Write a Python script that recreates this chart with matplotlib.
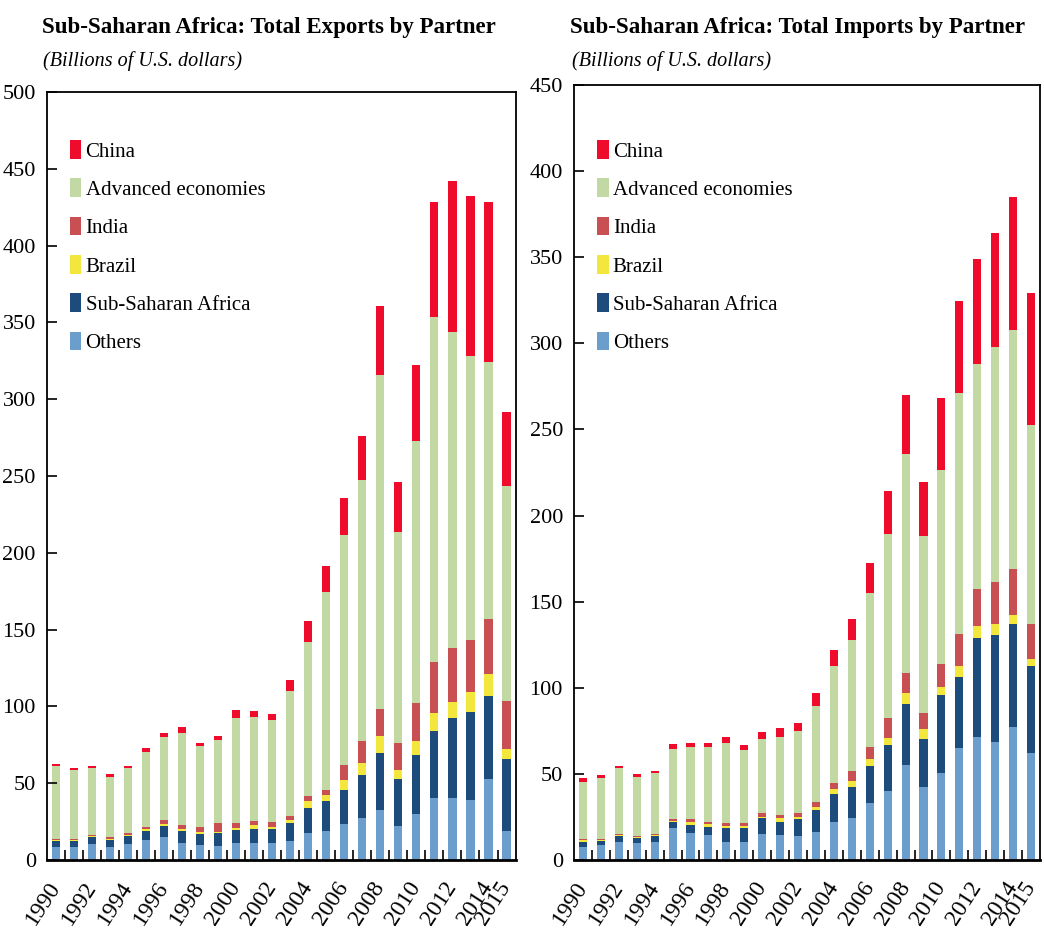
import numpy as np
import matplotlib.pyplot as plt

plt.rcParams['font.family'] = ['Liberation Serif', 'DejaVu Serif']

years = list(range(1990, 2016))
tick_years = [1990, 1992, 1994, 1996, 1998, 2000, 2002, 2004, 2006, 2008, 2010, 2012, 2014, 2015]

# Exports (billions of US$), stacked from bottom to top
exp_others = [8.3, 8.3, 10.4, 8.3, 10.4, 13.0, 14.8, 11.3, 9.8, 9.3, 10.9, 10.9, 10.8,
              12.3, 17.3, 19.0, 23.2, 27.5, 32.5, 22.3, 29.9, 40.5, 40.5, 39.0, 53.0, 18.8]
exp_ssa = [4.1, 4.1, 4.8, 4.7, 5.3, 6.0, 7.6, 7.8, 7.4, 8.1, 8.7, 9.1, 9.5,
           11.5, 16.7, 19.5, 22.7, 28.1, 37.2, 30.7, 38.7, 43.5, 52.1, 57.3, 54.1, 47.2]
exp_brazil = [0.5, 0.5, 0.4, 0.6, 0.8, 1.0, 0.9, 1.1, 1.3, 1.1, 1.3, 2.8, 1.3,
              2.2, 4.5, 3.7, 6.1, 7.8, 10.8, 5.9, 8.7, 11.9, 10.2, 13.4, 14.1, 6.5]
exp_india = [0.6, 0.6, 0.4, 1.2, 0.9, 1.7, 2.7, 2.6, 2.8, 5.4, 3.0, 2.4, 3.3,
             2.8, 3.1, 3.7, 10.1, 14.1, 17.5, 17.3, 24.9, 32.9, 35.1, 33.6, 35.9, 31.0]
exp_adv = [47.4, 45.2, 43.8, 39.2, 42.4, 48.5, 54.0, 60.2, 52.6, 54.4, 68.3, 67.8, 66.4,
           81.2, 100.6, 128.9, 149.2, 170.0, 218.0, 137.3, 170.9, 224.5, 205.6, 185.0, 167.3, 139.7]
exp_china = [1.5, 1.1, 1.2, 2.0, 1.2, 2.4, 2.6, 3.5, 2.1, 2.6, 5.2, 3.7, 3.9,
             7.3, 13.2, 16.9, 24.3, 28.8, 44.4, 32.5, 49.2, 75.4, 98.5, 104.1, 104.3, 48.7]

# Imports (billions of US$)
imp_others = [7.4, 8.7, 10.7, 9.7, 10.7, 18.5, 15.5, 14.5, 10.7, 10.7, 15.1, 14.5, 14.0,
              16.5, 22.3, 24.6, 32.9, 40.1, 55.2, 42.1, 50.4, 64.9, 71.3, 68.8, 77.5, 62.4]
imp_ssa = [3.3, 2.3, 3.4, 3.3, 3.4, 3.5, 4.8, 4.9, 8.1, 8.1, 9.1, 7.8, 9.8,
           12.6, 16.1, 18.0, 21.4, 26.4, 35.5, 28.1, 45.5, 41.3, 57.6, 62.0, 59.5, 50.4]
imp_brazil = [0.8, 0.8, 0.5, 0.5, 0.5, 0.7, 2.0, 1.3, 1.0, 1.0, 1.0, 2.3, 1.4,
              1.5, 2.7, 3.5, 4.4, 4.2, 6.2, 5.8, 4.5, 6.2, 6.8, 6.2, 5.4, 4.1]
imp_india = [0.7, 0.6, 0.5, 0.6, 0.5, 0.9, 1.3, 1.6, 1.5, 1.9, 1.9, 1.6, 1.9,
             3.3, 3.5, 5.3, 7.2, 11.7, 11.6, 9.3, 13.6, 19.0, 21.9, 24.2, 26.8, 20.3]
imp_adv = [33.3, 35.1, 38.2, 34.3, 35.3, 40.9, 42.3, 43.6, 46.9, 41.9, 43.2, 45.5, 47.9,
           55.8, 68.2, 76.5, 89.1, 106.6, 127.4, 103.1, 112.4, 139.9, 130.6, 136.9, 138.4, 115.3]
imp_china = [2.0, 1.9, 1.5, 1.4, 1.5, 2.7, 2.3, 2.3, 3.5, 3.3, 3.9, 5.2, 4.5,
             7.2, 9.3, 12.2, 17.5, 25.1, 34.1, 31.2, 41.6, 53.3, 60.6, 66.2, 77.5, 76.6]

labels = ['Others', 'Sub-Saharan Africa', 'Brazil', 'India', 'Advanced economies', 'China']
colors = ['#6b9dcd', '#1c4b7c', '#f3e73d', '#c85052', '#c3d9a3', '#ee0b2c']


def draw_panel(ax, series, ymax, leg_x):
    x = np.array(years)
    bottom = np.zeros(len(years))
    handles = []
    for s, lab, col in zip(series, labels, colors):
        b = ax.bar(x, s, width=0.45, bottom=bottom, color=col, label=lab, linewidth=0)
        handles.append(b)
        bottom += np.array(s)

    ax.set_xlim(1989.5, 2015.5)
    ax.set_ylim(0, ymax)
    ax.set_yticks(np.arange(0, ymax + 1, 50))
    ax.set_xticks(tick_years)
    ax.set_xticklabels([str(y) for y in tick_years], rotation=57, ha='right',
                       va='center', rotation_mode='anchor')
    # little ticks between the bars
    ax.set_xticks(np.arange(1990.5, 2015, 1), minor=True)
    ax.tick_params(axis='x', which='major', length=0, pad=17, labelsize=17)
    ax.tick_params(axis='x', which='minor', direction='in', length=7, width=1.2)
    ax.tick_params(axis='y', direction='in', length=7, width=1.2, labelsize=16, pad=8)
    for sp in ax.spines.values():
        sp.set_linewidth(1.3)
    ax.spines['bottom'].set_linewidth(2)

    # legend, China on top
    ax.legend(handles[::-1], labels[::-1], loc='upper left', bbox_to_anchor=(leg_x, 0.851),
              bbox_transform=fig.transFigure,
              frameon=False, fontsize=15, handlelength=0.55, handleheight=1.0,
              handletextpad=0.2, labelspacing=0.81, borderpad=0, borderaxespad=0)


fig = plt.figure(figsize=(10.44, 9.4), dpi=100)
ax1 = fig.add_axes([0.045, 0.0851, 0.4488, 0.8170])
ax2 = fig.add_axes([0.5498, 0.0851, 0.4464, 0.8245])

draw_panel(ax1, [exp_others, exp_ssa, exp_brazil, exp_india, exp_adv, exp_china], 500, 0.067)
draw_panel(ax2, [imp_others, imp_ssa, imp_brazil, imp_india, imp_adv, imp_china], 450, 0.572)

fig.text(0.040, 0.9649, 'Sub-Saharan Africa: Total Exports by Partner',
         fontsize=16.5, fontweight='bold')
fig.text(0.041, 0.9298, '(Billions of U.S. dollars)', fontsize=14.5, style='italic')
fig.text(0.546, 0.9649, 'Sub-Saharan Africa: Total Imports by Partner',
         fontsize=16.5, fontweight='bold')
fig.text(0.548, 0.9298, '(Billions of U.S. dollars)', fontsize=14.5, style='italic')

plt.savefig('out.png', dpi=100)
